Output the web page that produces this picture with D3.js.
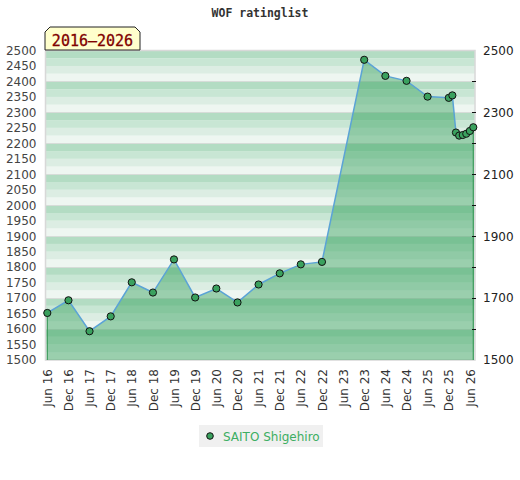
<!DOCTYPE html>
<html><head><meta charset="utf-8">
<script src="https://cdn.jsdelivr.net/npm/d3@7"></script>
<style>body{margin:0;background:#fff}svg{display:block}</style>
</head><body>
<script>
const title = "WOF ratinglist";
const periodLabel = "2016\u20132026";
const playerName = "SAITO Shigehiro";
const dates = ["2016-06","2016-12","2017-06","2017-12","2018-06","2018-12","2019-06","2019-12","2020-06","2020-12","2021-06","2021-12","2022-06","2022-12","2023-12","2024-06","2024-12","2025-06","2025-12","2026-01","2026-02","2026-03","2026-04","2026-05","2026-06","2026-07"];
const ratings = [1652,1693,1593,1641,1751,1718,1825,1702,1731,1686,1744,1780,1809,1817,2470,2418,2402,2351,2347,2355,2235,2225,2227,2231,2240,2252];
const xTickLabels = ["Jun 16","Dec 16","Jun 17","Dec 17","Jun 18","Dec 18","Jun 19","Dec 19","Jun 20","Dec 20","Jun 21","Dec 21","Jun 22","Dec 22","Jun 23","Dec 23","Jun 24","Dec 24","Jun 25","Dec 25","Jun 26"];
const leftTicks = d3.range(1500, 2501, 50);
const rightLabelTicks = [1500,1700,1900,2100,2300,2500];
const rightMinorTicks = d3.range(1500, 2501, 100);

const parse = d3.timeParse("%Y-%m");
const data = dates.map((d,i)=>({date:parse(d), v:ratings[i]}));
const tickDates = xTickLabels.map(s=>d3.timeParse("%b %y")(s));

const W=520,H=480;
const L=45.5,R=475,T=50.5,B=360;
const svg=d3.select("body").append("svg").attr("width",W).attr("height",H);

const x=d3.scaleTime().domain([parse("2016-06"),parse("2026-07")]).range([47.3,473.3]);
const y=d3.scaleLinear().domain([1500,2500]).range([B,T]);

// background stripes
const stripeCols=["#eef6f1","#dcede3","#c8e6d4","#b3dcc3"];
const stripes=d3.range(1500,2500,25);
svg.append("g").selectAll("rect").data(stripes).join("rect")
  .attr("x",L).attr("width",R-L)
  .attr("y",d=>y(d+25)).attr("height",d=>y(d)-y(d+25))
  .attr("fill",d=>stripeCols[((d-1500)/25)%4]);
svg.append("g").selectAll("line").data(d3.range(1600,2500,100)).join("line")
  .attr("x1",L).attr("x2",R).attr("y1",d=>Math.round(y(d))+0.5).attr("y2",d=>Math.round(y(d))+0.5)
  .attr("stroke","#d6dcd8").attr("stroke-width",1);
// frame
svg.append("rect").attr("x",L).attr("y",T).attr("width",R-L).attr("height",B-T)
  .attr("fill","none").attr("stroke","#d8d8d8").attr("stroke-width",1.5);

// area
const area=d3.area().x(d=>x(d.date)).y0(y(1500)).y1(d=>y(d.v));
svg.append("path").datum(data).attr("d",area).attr("fill","rgb(50,160,90)").attr("fill-opacity",0.45);
const first=data[0], last=data[data.length-1];
svg.append("line").attr("x1",x(first.date)).attr("x2",x(first.date)).attr("y1",y(first.v)).attr("y2",y(1500)).attr("stroke","#3a9a5a").attr("stroke-width",1.2);
svg.append("line").attr("x1",x(last.date)).attr("x2",x(last.date)).attr("y1",y(last.v)).attr("y2",y(1500)).attr("stroke","#3a9a5a").attr("stroke-width",1.2);
const line=d3.line().x(d=>x(d.date)).y(d=>y(d.v));
svg.append("path").datum(data).attr("d",line).attr("fill","none").attr("stroke","#5ba3d6").attr("stroke-width",1.5);
svg.append("g").selectAll("circle").data(data).join("circle")
  .attr("cx",d=>x(d.date)).attr("cy",d=>y(d.v)).attr("r",3.6)
  .attr("fill","#3aa15e").attr("stroke","#111").attr("stroke-width",1);

// left axis
const la=svg.append("g").attr("transform",`translate(${L},0)`)
  .call(d3.axisLeft(y).tickValues(leftTicks).tickSize(0).tickPadding(9).tickFormat(d3.format("d")));
la.select(".domain").remove();
la.selectAll("text").attr("font-family","DejaVu Sans").attr("font-size",12).attr("fill","#444");

// right axis
svg.append("g").selectAll("line").data(rightMinorTicks.filter(d=>d!==1500&&d!==2500)).join("line")
  .attr("x1",R-3).attr("x2",R+1).attr("y1",d=>Math.round(y(d))+0.5).attr("y2",d=>Math.round(y(d))+0.5)
  .attr("stroke","#111");
const ra2=svg.append("g").attr("transform",`translate(${R},0)`)
  .call(d3.axisRight(y).tickValues(rightLabelTicks).tickSize(0).tickPadding(8).tickFormat(d3.format("d")));
ra2.select(".domain").remove();
ra2.selectAll("text").attr("font-family","DejaVu Sans").attr("font-size",12).attr("fill","#222");

// bottom axis
const ba=svg.append("g").attr("transform",`translate(0,${B})`)
  .call(d3.axisBottom(x).tickValues(tickDates).tickSize(0).tickFormat((d,i)=>xTickLabels[i]));
ba.select(".domain").remove();
ba.selectAll("text").attr("font-family","DejaVu Sans").attr("font-size",12).attr("fill","#333")
  .attr("transform","rotate(-90)").attr("text-anchor","end").attr("dy","0.35em").attr("x",-9).attr("y",0);

// title
svg.append("text").attr("x",260).attr("y",17).attr("text-anchor","middle")
  .attr("font-family","DejaVu Sans Mono").attr("font-size",11.5).attr("font-weight","bold").attr("fill","#333").text(title);

// period label
const bx=45,by=27,bw=95,bh=23,c=5;
svg.append("path").attr("d",`M${bx},${by+bh} L${bx},${by+c} L${bx+c},${by} L${bx+bw-c},${by} L${bx+bw},${by+c} L${bx+bw},${by+bh} Z`)
  .attr("fill","#ffffcc").attr("stroke","#222").attr("stroke-width",1);
svg.append("text").attr("x",bx+bw/2).attr("y",by+18.5).attr("text-anchor","middle")
  .attr("font-family","DejaVu Sans Mono").attr("font-size",15).attr("fill","#800000")
  .attr("stroke","#800000").attr("stroke-width",0.3).text(periodLabel);

// legend
const lg=svg.append("g");
lg.append("rect").attr("x",199).attr("y",425).attr("width",124).attr("height",22).attr("fill","#f0f0f0");
lg.append("circle").attr("cx",210).attr("cy",436).attr("r",3.3).attr("fill","#3aa15e").attr("stroke","#111");
lg.append("text").attr("x",223).attr("y",440.5).attr("font-family","DejaVu Sans").attr("font-size",12).attr("fill","#3cae62").text(playerName);
</script>
</body></html>
